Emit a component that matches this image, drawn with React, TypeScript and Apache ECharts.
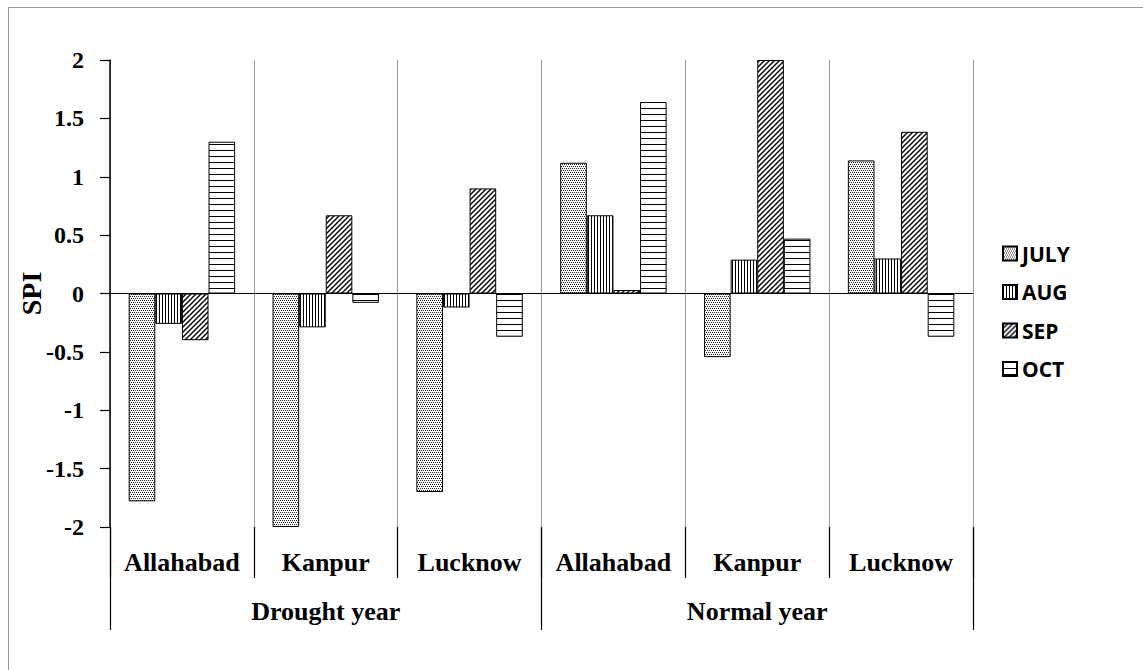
import React, { useEffect, useRef } from 'react';
import * as echarts from 'echarts';

const cities = ['Allahabad', 'Kanpur', 'Lucknow', 'Allahabad', 'Kanpur', 'Lucknow'];
const groups = ['Drought year', 'Normal year'];
const months = ['JULY', 'AUG', 'SEP', 'OCT'];
const july = [-1.78, -2.0, -1.7, 1.12, -0.545, 1.14];
const aug = [-0.26, -0.29, -0.12, 0.67, 0.29, 0.3];
const sep = [-0.4, 0.67, 0.9, 0.03, 2.0, 1.385];
const oct = [1.3, -0.08, -0.37, 1.64, 0.47, -0.37];
const seriesValues = [july, aug, sep, oct];
const yMin = -2;
const yMax = 2;
const yStep = 0.5;

function makePattern(w: number, h: number, draw: (ctx: CanvasRenderingContext2D) => void) {
  const c = document.createElement('canvas');
  c.width = w;
  c.height = h;
  const ctx = c.getContext('2d') as CanvasRenderingContext2D;
  ctx.fillStyle = '#ffffff';
  ctx.fillRect(0, 0, w, h);
  draw(ctx);
  return { image: c, repeat: 'repeat', imageWidth: w, imageHeight: h } as any;
}

export default function App() {
  const ref = useRef<HTMLDivElement>(null);
  useEffect(() => {
    if (!ref.current) return;
    const chart = echarts.init(ref.current, null, { renderer: 'svg' });

    const dots = makePattern(4, 4, (ctx) => {
      ctx.fillStyle = '#222';
      ctx.fillRect(0, 0, 1, 1);
      ctx.fillRect(2, 0, 1, 1);
      ctx.fillRect(1, 2, 1, 1);
      ctx.fillRect(3, 2, 1, 1);
    });
    const vlines = makePattern(3, 3, (ctx) => {
      ctx.fillStyle = '#000';
      ctx.fillRect(0, 0, 1, 3);
    });
    const diag = makePattern(5, 5, (ctx) => {
      ctx.strokeStyle = '#000';
      ctx.lineWidth = 1.4;
      ctx.beginPath();
      ctx.moveTo(-1, 6);
      ctx.lineTo(6, -1);
      ctx.moveTo(-1, 1);
      ctx.lineTo(1, -1);
      ctx.moveTo(4, 6);
      ctx.lineTo(6, 4);
      ctx.stroke();
    });
    const hlines = makePattern(6, 6, (ctx) => {
      ctx.fillStyle = '#000';
      ctx.fillRect(0, 0, 6, 1);
    });
    const patterns = [dots, vlines, diag, hlines];

    const serif = 'Liberation Serif';

    const series: any[] = months.map((m, i) => ({
      name: m,
      type: 'bar',
      xAxisIndex: 0,
      data: seriesValues[i],
      barGap: '0%',
      barCategoryGap: '26%',
      itemStyle: { color: patterns[i], borderColor: '#000', borderWidth: 1 },
      emphasis: { disabled: true },
    }));
    series[0].markLine = {
      silent: true,
      symbol: ['none', 'none'],
      label: { show: false },
      lineStyle: { color: '#000', type: 'solid', width: 1.2 },
      data: [{ yAxis: 0 }],
    };

    chart.setOption({
      animation: false,
      backgroundColor: '#fff',
      graphic: [
        {
          type: 'rect',
          shape: { x: 8.5, y: 7.5, width: 1300, height: 800 },
          style: { fill: 'none', stroke: '#999', lineWidth: 1 },
          z: -10,
          silent: true,
        },
      ],
      legend: {
        orient: 'vertical',
        left: 997,
        top: 238,
        itemWidth: 14,
        itemHeight: 14,
        itemGap: 17.5,
        icon: 'rect',
        data: months,
        textStyle: { fontFamily: 'Open Sans', fontWeight: 'bold', fontSize: 21, color: '#000' },
        selectedMode: false,
      },
      grid: { left: 110, right: 170, top: 60, bottom: 143, containLabel: false },
      xAxis: [
        {
          type: 'category',
          data: cities,
          position: 'bottom',
          axisLine: { show: false, onZero: false },
          axisTick: { show: true, length: 51, lineStyle: { color: '#000', width: 1.2 } },
          axisLabel: {
            interval: 0,
            margin: 22,
            fontFamily: serif,
            fontWeight: 'bold',
            fontSize: 26,
            color: '#000',
          },
          splitLine: { show: true, lineStyle: { color: '#999', width: 1 } },
        },
        {
          type: 'category',
          data: groups,
          position: 'bottom',
          axisLine: { show: false, onZero: false },
          axisTick: { show: true, length: 103, lineStyle: { color: '#000', width: 1.2 } },
          axisLabel: {
            interval: 0,
            margin: 71,
            fontFamily: serif,
            fontWeight: 'bold',
            fontSize: 26,
            color: '#000',
          },
          splitLine: { show: false },
        },
      ],
      yAxis: {
        type: 'value',
        min: yMin,
        max: yMax,
        interval: yStep,
        name: 'SPI',
        nameLocation: 'middle',
        nameRotate: 90,
        nameGap: 65,
        nameMoveOverlap: false,
        nameTextStyle: { fontFamily: serif, fontWeight: 'bold', fontSize: 28, color: '#000' },
        axisLine: { show: true, lineStyle: { color: '#000', width: 1.5 } },
        axisTick: { show: true, inside: false, length: 10, lineStyle: { color: '#000', width: 1.2 } },
        axisLabel: { margin: 26, fontFamily: serif, fontWeight: 'bold', fontSize: 24, color: '#000' },
        splitLine: { show: false },
      },
      series,
    });
    return () => chart.dispose();
  }, []);
  return (
    <div
      ref={ref}
      style={{ position: 'fixed', left: 0, top: 0, width: 1143, height: 670, background: '#fff' }}
    />
  );
}
